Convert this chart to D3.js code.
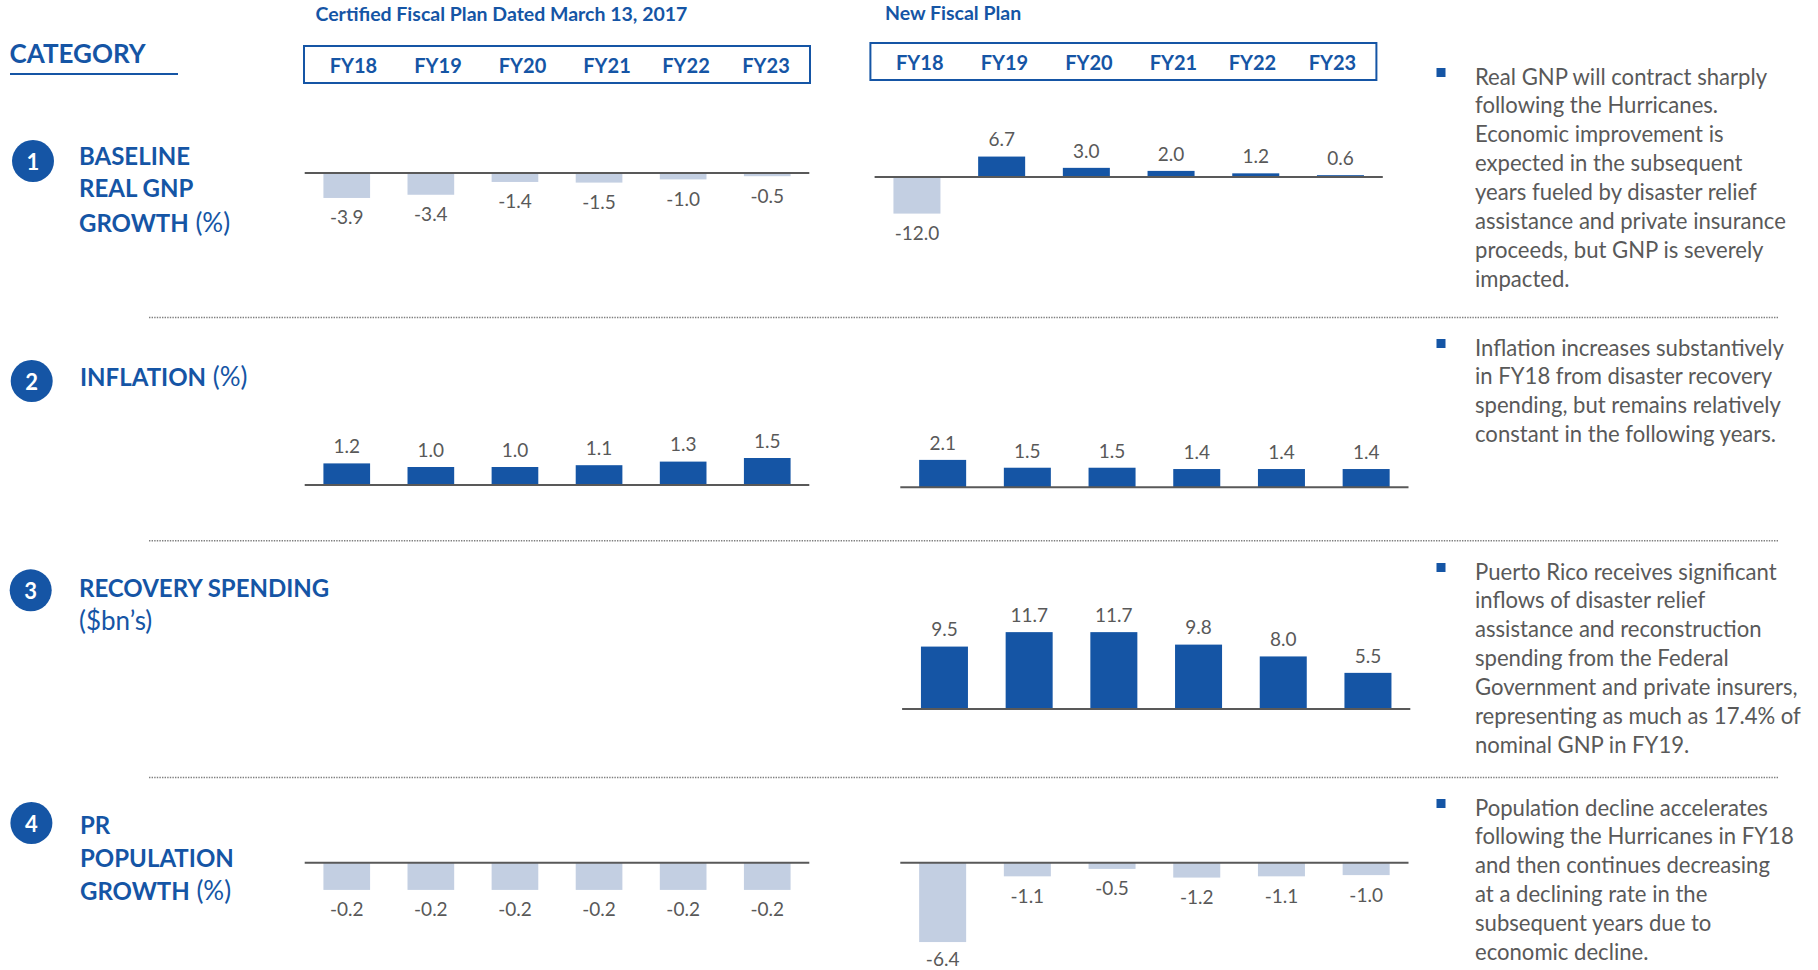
<!DOCTYPE html>
<html>
<head>
<meta charset="utf-8">
<script src="https://cdnjs.cloudflare.com/ajax/libs/d3/7.8.5/d3.min.js"></script>
<style>
  html, body { margin: 0; padding: 0; background: #fff; }
  svg { display: block; font-family: Lato, sans-serif; }
</style>
</head>
<body>
<div id="chart"></div>
<script>
// --- data
const fiscalYears = ['FY18', 'FY19', 'FY20', 'FY21', 'FY22', 'FY23'];

const certifiedGnp = [-3.9, -3.4, -1.4, -1.5, -1.0, -0.5];
const newGnp = [-12.0, 6.7, 3.0, 2.0, 1.2, 0.6];
const certifiedInflation = [1.2, 1.0, 1.0, 1.1, 1.3, 1.5];
const newInflation = [2.1, 1.5, 1.5, 1.4, 1.4, 1.4];
const newRecovery = [9.5, 11.7, 11.7, 9.8, 8.0, 5.5];
const certifiedPopulation = [-0.2, -0.2, -0.2, -0.2, -0.2, -0.2];
const newPopulation = [-6.4, -1.1, -0.5, -1.2, -1.1, -1.0];

const planTitles = ['Certified Fiscal Plan Dated March 13, 2017', 'New Fiscal Plan'];

const categoryLines = [
  [['BASELINE', ''], ['REAL GNP', ''], ['GROWTH', ' (%)']],
  [['INFLATION', ' (%)']],
  [['RECOVERY SPENDING', ''], ['', '($bn\u2019s)']],
  [['PR', ''], ['POPULATION', ''], ['GROWTH', ' (%)']]
];

const commentary = [
  ['Real GNP will contract sharply', 'following the Hurricanes.', 'Economic improvement is',
   'expected in the subsequent', 'years fueled by disaster relief', 'assistance and private insurance',
   'proceeds, but GNP is severely', 'impacted.'],
  ['Inflation increases substantively', 'in FY18 from disaster recovery',
   'spending, but remains relatively', 'constant in the following years.'],
  ['Puerto Rico receives significant', 'inflows of disaster relief', 'assistance and reconstruction',
   'spending from the Federal', 'Government and private insurers,', 'representing as much as 17.4% of',
   'nominal GNP in FY19.'],
  ['Population decline accelerates', 'following the Hurricanes in FY18', 'and then continues decreasing',
   'at a declining rate in the', 'subsequent years due to', 'economic decline.']
];

// --- layout
const width = 1818, height = 970;
const blue = '#1555a5', pale = '#c3cfe2', grey = '#595959';

// each panel: x span of the six bands, y of the zero line, pixels per unit
const panels = [
  { values: certifiedGnp, x0: 304.7, x1: 809.3, zero: 173, unit: 6.4 },
  { values: newGnp, x0: 874.6, x1: 1382.8, zero: 177, unit: 3.05 },
  { values: certifiedInflation, x0: 304.7, x1: 809.3, zero: 485, unit: 18 },
  { values: newInflation, x0: 900.3, x1: 1408.5, zero: 487.3, unit: 13.05 },
  { values: newRecovery, x0: 902.1, x1: 1410.3, zero: 709, unit: 6.57 },
  { values: certifiedPopulation, x0: 304.7, x1: 809.3, zero: 862.7, unit: 136 },
  { values: newPopulation, x0: 900.3, x1: 1408.5, zero: 862.7, unit: 12.4 }
];

const headers = [
  { x: 304, y: 46, w: 506, h: 37, textY: 65, titleX: 315.5, titleY: 13, offsets: [49.4, 134, 218.5, 303, 382, 462] },
  { x: 870.4, y: 43, w: 506, h: 37, textY: 62, titleX: 885, titleY: 12, offsets: [49.4, 134, 218.5, 303, 382, 462] }
];

const rows = [
  { circleX: 33, circleY: 161, labelX: 79, lineYs: [155, 187, 221.5], textY: 76 },
  { circleX: 31.7, circleY: 381, labelX: 80, lineYs: [376], textY: 347 },
  { circleX: 30.7, circleY: 590.3, labelX: 79, lineYs: [587, 620], textY: 571 },
  { circleX: 31.4, circleY: 823, labelX: 80, lineYs: [824, 857, 890], textY: 807 }
];

const dividers = [317.5, 540.7, 777.6];

const svg = d3.select('#chart').append('svg')
  .attr('width', width)
  .attr('height', height)
  .attr('viewBox', [0, 0, width, height]);

svg.append('rect').attr('width', width).attr('height', height).attr('fill', '#fff');

// --- category heading
svg.append('text')
  .attr('x', 9.5).attr('y', 52.5)
  .attr('dominant-baseline', 'central')
  .attr('fill', blue).attr('font-weight', 700).attr('font-size', 26)
  .text('CATEGORY');
svg.append('line')
  .attr('x1', 10).attr('x2', 178).attr('y1', 74).attr('y2', 74)
  .attr('stroke', blue).attr('stroke-width', 2);

// --- plan titles and FY boxes
headers.forEach((h, i) => {
  const g = svg.append('g').attr('class', 'header');
  g.append('text')
    .attr('x', h.titleX).attr('y', h.titleY)
    .attr('dominant-baseline', 'central')
    .attr('fill', blue).attr('font-weight', 700).attr('font-size', 19.5)
    .text(planTitles[i]);
  g.append('rect')
    .attr('x', h.x).attr('y', h.y).attr('width', h.w).attr('height', h.h)
    .attr('fill', 'none').attr('stroke', blue).attr('stroke-width', 2);
  const fx = d3.scaleOrdinal(fiscalYears, h.offsets);
  g.selectAll('text.fy').data(fiscalYears).join('text')
    .attr('class', 'fy')
    .attr('x', d => h.x + fx(d)).attr('y', h.textY)
    .attr('text-anchor', 'middle').attr('dominant-baseline', 'central')
    .attr('fill', blue).attr('font-weight', 700).attr('font-size', 20)
    .text(d => d);
});

// --- dotted separators
svg.selectAll('line.divider').data(dividers).join('line')
  .attr('class', 'divider')
  .attr('x1', 149).attr('x2', 1778)
  .attr('y1', d => d).attr('y2', d => d)
  .attr('stroke', '#7f7f7f').attr('stroke-width', 1.5).attr('stroke-dasharray', '1.4 1.2');

// --- left hand categories and right hand commentary
rows.forEach((r, i) => {
  const g = svg.append('g').attr('class', 'row');
  g.append('circle')
    .attr('cx', r.circleX).attr('cy', r.circleY).attr('r', 21)
    .attr('fill', blue);
  g.append('text')
    .attr('x', r.circleX).attr('y', r.circleY)
    .attr('text-anchor', 'middle').attr('dominant-baseline', 'central')
    .attr('fill', '#fff').attr('font-weight', 700).attr('font-size', 22)
    .text(i + 1);

  categoryLines[i].forEach((parts, j) => {
    const t = g.append('text')
      .attr('x', r.labelX).attr('y', r.lineYs[j])
      .attr('dominant-baseline', 'central')
      .attr('fill', blue);
    t.append('tspan').attr('font-weight', 700).attr('font-size', 24).text(parts[0]);
    t.append('tspan').attr('font-weight', 400).attr('font-size', 26).text(parts[1]);
  });

  g.append('rect')
    .attr('x', 1436.5).attr('y', r.textY - 8).attr('width', 9).attr('height', 9)
    .attr('fill', blue);
  g.selectAll('text.note').data(commentary[i]).join('text')
    .attr('class', 'note')
    .attr('x', 1475)
    .attr('y', (d, j) => r.textY + j * 28.9)
    .attr('dominant-baseline', 'central')
    .attr('fill', grey).attr('font-size', 22.1)
    .text(d => d);
});

// --- bar panels
panels.forEach(p => {
  const x = d3.scaleBand().domain(fiscalYears).range([p.x0, p.x1]).paddingInner(0.445).paddingOuter(0.2225);
  const y = d3.scaleLinear().domain([0, 1]).range([p.zero, p.zero - p.unit]);
  const g = svg.append('g').attr('class', 'panel');
  const cells = p.values.map((v, i) => ({ fy: fiscalYears[i], v }));

  g.selectAll('rect').data(cells).join('rect')
    .attr('x', d => x(d.fy))
    .attr('width', x.bandwidth())
    .attr('y', d => Math.min(y(d.v), y(0)))
    .attr('height', d => Math.abs(y(d.v) - y(0)))
    .attr('fill', d => d.v < 0 ? pale : blue);

  g.append('line')
    .attr('x1', p.x0).attr('x2', p.x1)
    .attr('y1', y(0)).attr('y2', y(0))
    .attr('stroke', grey).attr('stroke-width', 2);

  g.selectAll('text').data(cells).join('text')
    .attr('x', d => x(d.fy) + x.bandwidth() / 2)
    // keep the lowest label inside the page
    .attr('y', d => Math.min(y(d.v) + (d.v < 0 ? 19 : -17.7), height - 11.5))
    .attr('text-anchor', 'middle').attr('dominant-baseline', 'central')
    .attr('fill', grey).attr('font-size', 19)
    .text(d => d.v.toFixed(1));
});
</script>
</body>
</html>
